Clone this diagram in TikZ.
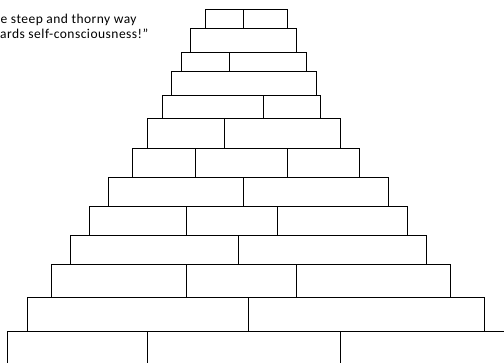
\documentclass[tikz,border=0pt]{standalone}
\usepackage{fontspec}
\setmainfont{Carlito}
\usepackage{tikz}
\usetikzlibrary{positioning}

\begin{document}
\begin{tikzpicture}[
  x=1pt, y=-1pt,
  brick/.style={draw, line width=1.1pt},
  motto/.style={font=\fontsize{13.5}{15}\selectfont\addfontfeatures{LetterSpace=3.5}, inner sep=0pt}
]
\useasboundingbox (0,0) rectangle (504,363);
\clip (0,0) rectangle (504,363);

% Motto (cut off at the left edge)
\node[motto, anchor=base west] (m1) at (0.5,24) {e steep and thorny way};
\node[motto, anchor=base west] (m2) at (0,39) {ards self-consciousness!"};

% --- rows 1-5 (top) ---
\draw[brick] (205.5,9.5)  rectangle (243.5,28.5)  (243.5,9.5)  rectangle (287.5,28.5);
\draw[brick] (190.5,28.5) rectangle (296.5,52.5);
\draw[brick] (181.5,52.5) rectangle (229.5,71.5)  (229.5,52.5) rectangle (306.5,71.5);
\draw[brick] (171.5,71.5) rectangle (316.5,95.5);
\draw[brick] (162.5,95.5) rectangle (263.5,118.5) (263.5,95.5) rectangle (320.5,118.5);

% --- rows 6-9 ---
\draw[brick] (147.5,118.5) rectangle (224.5,148.5) (224.5,118.5) rectangle (340.5,148.5);
\draw[brick] (132.5,148.5) rectangle (195.5,177.5) (195.5,148.5) rectangle (287.5,177.5)
             (287.5,148.5) rectangle (359.5,177.5);
\draw[brick] (108.5,177.5) rectangle (243.5,206.5) (243.5,177.5) rectangle (388.5,206.5);
\draw[brick] (89.5,206.5)  rectangle (186.5,235.5) (186.5,206.5) rectangle (277.5,235.5)
             (277.5,206.5) rectangle (407.5,235.5);

% --- rows 10-13 (bottom, last one runs off the page) ---
\draw[brick] (70.5,235.5)  rectangle (238.5,264.5) (238.5,235.5) rectangle (426.5,264.5);
\draw[brick] (51.5,264.5)  rectangle (186.5,297.5) (186.5,264.5) rectangle (296.5,297.5)
             (296.5,264.5) rectangle (450.5,297.5);
\draw[brick] (27.5,297.5)  rectangle (248.5,331.5) (248.5,297.5) rectangle (484.5,331.5);
\draw[brick] (7.5,331.5)   rectangle (147.5,380)   (147.5,331.5) rectangle (340.5,380)
             (340.5,331.5) rectangle (530,380);

\end{tikzpicture}
\end{document}
